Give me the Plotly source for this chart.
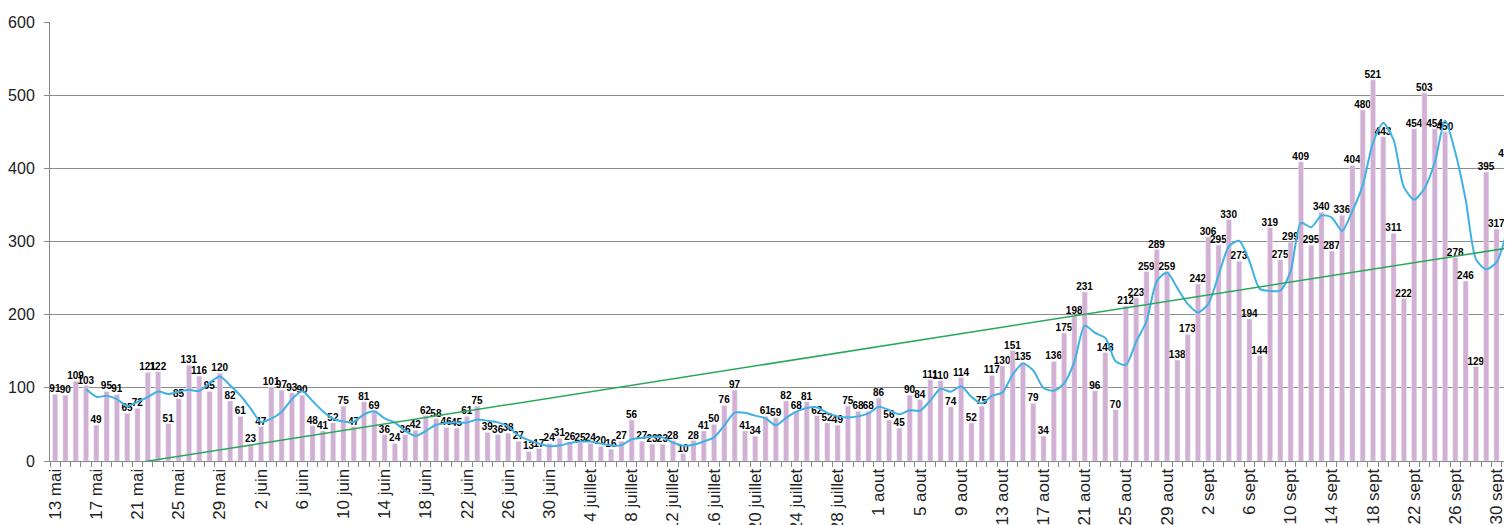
import numpy as np
import pandas as pd
import plotly.graph_objects as go

# mois affichés (nom, premier jour, dernier jour)
mois = [("mai", 13, 31), ("juin", 1, 30), ("juillet", 1, 31),
        ("aout", 1, 31), ("sept", 1, 30), ("oct", 1, 1)]

jours = [f"{d} {m}" for m, d0, d1 in mois for d in range(d0, d1 + 1)]

# nombre quotidien
valeurs = [
    91, 90, 109, 103, 49, 95, 91, 65, 72, 121,
    122, 51, 85, 131, 116, 95, 120, 82, 61, 23,
    47, 101, 97, 93, 90, 48, 41, 52, 75, 47,
    81, 69, 36, 24, 36, 42, 62, 58, 46, 45,
    61, 75, 39, 36, 38, 27, 13, 17, 24, 31,
    26, 25, 24, 20, 16, 27, 56, 27, 23, 23,
    28, 10, 28, 41, 50, 76, 97, 41, 34, 61,
    59, 82, 68, 81, 62, 52, 49, 75, 68, 68,
    86, 56, 45, 90, 84, 111, 110, 74, 114, 52,
    75, 117, 130, 151, 135, 79, 34, 136, 175, 198,
    231, 96, 148, 70, 212, 223, 259, 289, 259, 138,
    173, 242, 306, 295, 330, 273, 194, 144, 319, 275,
    299, 409, 295, 340, 287, 336, 404, 480, 521, 443,
    311, 222, 454, 503, 454, 450, 278, 246, 129, 395,
    317, 413,
]

# une étiquette tous les 4 jours
etiquettes = [j if i % 4 == 0 else "" for i, j in enumerate(jours)]

# courbes de tendance (moyenne mobile sur 4 jours + linéaire)
moy_mobile = pd.Series(valeurs).rolling(4).mean()
idx = np.arange(len(valeurs))
pente, origine = np.polyfit(idx, valeurs, 1)
tendance = pente * idx + origine

fig = go.Figure()

fig.add_trace(go.Bar(
    x=jours, y=valeurs,
    marker_color="#d3afd4",
    text=valeurs, textposition="outside",
    textfont=dict(family="Liberation Sans Narrow, Arial Narrow, Liberation Sans",
                  size=10, color="black", weight="bold"),
    constraintext="none", cliponaxis=False,
))

fig.add_trace(go.Scatter(
    x=jours, y=moy_mobile, mode="lines",
    line=dict(color="#3fb1e3", width=2, shape="spline", smoothing=0.7),
))

fig.add_trace(go.Scatter(
    x=jours, y=tendance, mode="lines",
    line=dict(color="#2aa85a", width=1.5),
))

# la page ajoute 8 px de marge autour du graphique
fig.update_layout(
    width=1504, height=517,
    margin=dict(l=42, r=0, t=14, b=64),
    plot_bgcolor="white", paper_bgcolor="white",
    showlegend=False, bargap=0.5,
    font=dict(family="Liberation Sans, Arial", color="#222"),
)

fig.update_xaxes(
    type="category", range=[-0.5, len(jours) - 0.5],
    tickvals=jours, ticktext=etiquettes,
    tickangle=-90, tickfont=dict(size=17),
    ticks="outside", ticklen=5, tickson="boundaries", tickcolor="#888",
    showline=True, linecolor="#888", showgrid=False, automargin=False,
)

fig.update_yaxes(
    range=[0, 600], dtick=100,
    tickfont=dict(size=16),
    ticks="outside", ticklen=5, tickcolor="#888", ticklabelstandoff=6,
    showline=True, linecolor="#888",
    showgrid=True, gridcolor="#8c8c8c", gridwidth=1,
    zeroline=False, automargin=False,
)

fig.write_html("out.html")
